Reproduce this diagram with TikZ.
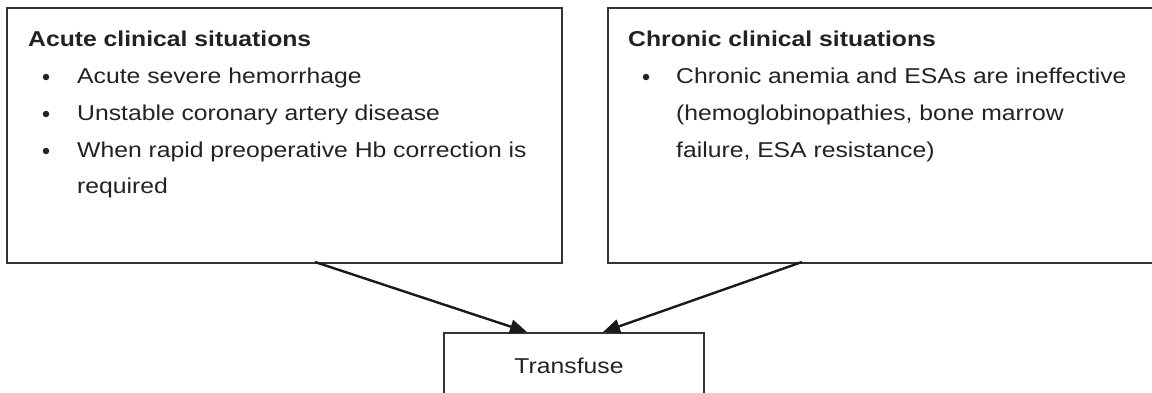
\documentclass[tikz,border=0pt]{standalone}
\usepackage{fontspec}
\setmainfont{Liberation Sans}[FakeStretch=1.15]
\usetikzlibrary{arrows.meta}
\definecolor{ink}{HTML}{222222}
\definecolor{edge}{HTML}{333333}
\tikzset{
  box/.style={draw=edge, line width=1.6pt, anchor=north west, inner sep=0pt},
  txt/.style={anchor=base west, inner sep=0pt, text=ink, font=\fontsize{21.5}{26}\selectfont},
  head/.style={txt, font=\fontsize{21.5}{26}\selectfont\bfseries},
  bul/.style={circle, fill=ink, inner sep=0pt, minimum size=6.5pt},
  conn/.style={draw=black!90, line width=2.4pt, -{Triangle[length=17pt,width=14pt]}}
}
\begin{document}
\begin{tikzpicture}[x=1pt,y=1pt]
\useasboundingbox (0,0) rectangle (1152,-392);
% boxes
\node[box, minimum width=555pt, minimum height=255pt] (acute) at (6,-7) {};
\node[box, minimum width=560pt, minimum height=255pt] (chronic) at (607,-7) {};
\node[box, minimum width=260pt, minimum height=80pt] (transfuse) at (443,-332) {};
% left box text
\node[head] (ah) at (28,-46) {Acute clinical situations};
\node[bul] (ab1) at (46,-77) {};
\node[txt] (a1) at (77,-83) {Acute severe hemorrhage};
\node[bul] (ab2) at (46,-114) {};
\node[txt] (a2) at (77,-120) {Unstable coronary artery disease};
\node[bul] (ab3) at (46,-151) {};
\node[txt] (a3) at (77,-157) {When rapid preoperative Hb correction is};
\node[txt] (a4) at (77,-193) {required};
% right box text
\node[head] (ch) at (628,-46) {Chronic clinical situations};
\node[bul] (cb1) at (646,-77) {};
\node[txt] (c1) at (676,-83) {Chronic anemia and ESAs are ineffective};
\node[txt] (c2) at (676,-120) {(hemoglobinopathies, bone marrow};
\node[txt] (c3) at (676,-157) {failure, ESA resistance)};
% transfuse text
\node[anchor=base, inner sep=0pt, text=ink, font=\fontsize{21.5}{26}\selectfont] (tt) at (569,-373) {Transfuse};
% connectors
\coordinate (aout) at (315,-262);
\coordinate (cout) at (802,-262);
\coordinate (tinl) at (527,-332);
\coordinate (tinr) at (603,-332);
\draw[conn] (aout) -- (tinl);
\draw[conn] (cout) -- (tinr);
\end{tikzpicture}
\end{document}
